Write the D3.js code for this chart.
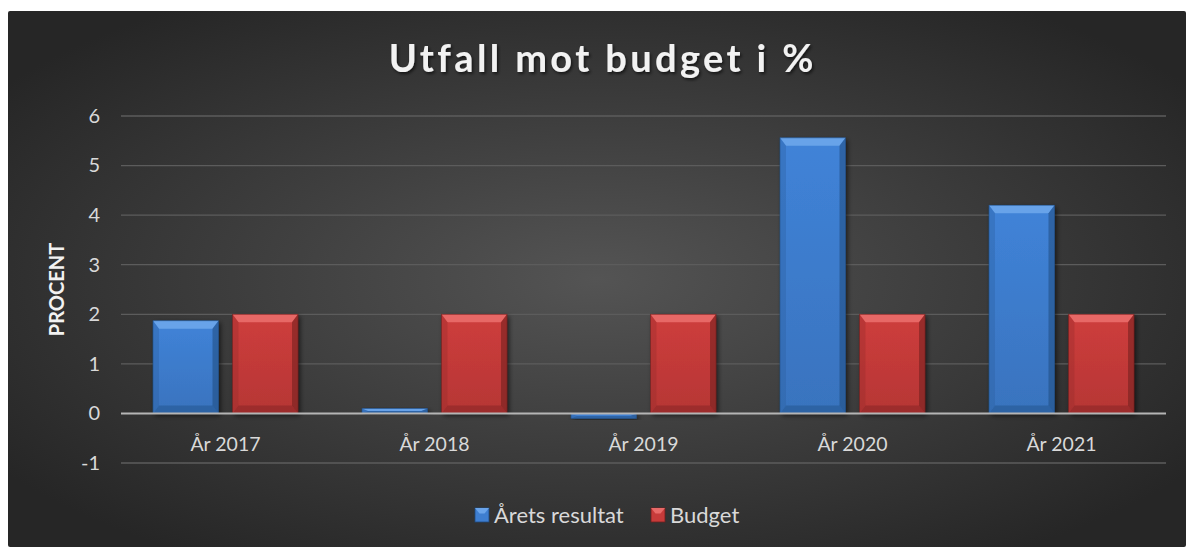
<!DOCTYPE html>
<html><head><meta charset="utf-8">
<script src="https://cdn.jsdelivr.net/npm/d3@7"></script>
<style>html,body{margin:0;padding:0;background:#fff;}svg{display:block;}</style>
</head><body><div id="chart"></div>
<script>
const categories = ["År 2017","År 2018","År 2019","År 2020","År 2021"];
const seriesNames = ["Årets resultat","Budget"];
const aretsResultat = [1.87, 0.1, -0.1, 5.56, 4.2];
const budget = [2, 2, 2, 2, 2];
const yTicks = [-1,0,1,2,3,4,5,6];
const title = "Utfall mot budget i %";
const yTitle = "PROCENT";

const W = 1186, H = 547;
const svg = d3.select("#chart").append("svg").attr("width", W).attr("height", H);
const defs = svg.append("defs");
const bg = defs.append("radialGradient").attr("id","bg").attr("cx","50%").attr("cy","50%").attr("r","62%");
bg.append("stop").attr("offset","0%").attr("stop-color","#545454");
bg.append("stop").attr("offset","100%").attr("stop-color","#262626");
const colors = [{base:"#3e7ed0", light:"#6aa4ea", dark:"#2a5f9e", darker:"#1f4a7d"},
                {base:"#c73b3a", light:"#e86a68", dark:"#962b2a", darker:"#6e1f1e"}];
colors.forEach((c,i)=>{
  const g = defs.append("linearGradient").attr("id","bar"+i).attr("x1",0).attr("x2",0).attr("y1",0).attr("y2",1);
  g.append("stop").attr("offset","0%").attr("stop-color",d3.color(c.base).brighter(0.1));
  g.append("stop").attr("offset","100%").attr("stop-color",d3.color(c.base).darker(0.25));
});
const f = defs.append("filter").attr("id","shadow").attr("x","-20%").attr("y","-20%").attr("width","140%").attr("height","140%");
f.append("feDropShadow").attr("dx",2).attr("dy",2).attr("stdDeviation",2.5).attr("flood-color","#000").attr("flood-opacity",0.6);
const tf = defs.append("filter").attr("id","tshadow").attr("x","-10%").attr("y","-30%").attr("width","120%").attr("height","160%");
tf.append("feDropShadow").attr("dx",1.5).attr("dy",2).attr("stdDeviation",1.5).attr("flood-color","#000").attr("flood-opacity",0.6);

svg.append("rect").attr("x",8).attr("y",11).attr("width",W-8).attr("height",H-11).attr("rx",2).attr("fill","url(#bg)");

const font = "Lato, 'Open Sans', sans-serif";
const titleEl = svg.append("text").attr("x",601).attr("y",72).attr("text-anchor","middle")
  .attr("font-family",font).attr("font-weight","bold").attr("font-size",38).attr("letter-spacing",0)
  .attr("fill","#f2f2f2").attr("filter","url(#tshadow)").text(title);
{
  const w0 = titleEl.node().getComputedTextLength();
  const n = title.length;
  const ls = (427 - w0) / n;
  titleEl.attr("letter-spacing", ls).attr("x", 601 + ls/2);
}

const x = d3.scaleBand().domain(categories).range([121,1166]);
const y = d3.scaleLinear().domain([-1,6]).range([463,116]);
const x1 = d3.scaleBand().domain(seriesNames).range([0, x.bandwidth()]).paddingInner(0.176).paddingOuter(0.402);

svg.append("g").selectAll("line").data(yTicks.filter(d=>d!==0)).join("line")
  .attr("x1",121).attr("x2",1166).attr("y1",d=>y(d)).attr("y2",d=>y(d))
  .attr("stroke","#5c5c5c").attr("stroke-width",1.3);

const yAxis = svg.append("g").attr("transform","translate(121,0)")
  .call(d3.axisLeft(y).tickValues(yTicks).tickSize(0).tickPadding(21).tickFormat(d=>String(d)));
yAxis.select(".domain").remove();
yAxis.selectAll("text").attr("font-family",font).attr("font-size",20).attr("fill","#d9d9d9");

svg.append("text").attr("transform",`translate(64,${y(2.5)}) rotate(-90)`).attr("text-anchor","middle")
  .attr("font-family",font).attr("font-weight","bold").attr("font-size",20).attr("fill","#f2f2f2").text(yTitle);

const series = [aretsResultat, budget];
const bars = [];
categories.forEach((c,ci)=>{
  series.forEach((s,si)=>{
    bars.push({c, si, v:s[ci], name:seriesNames[si]});
  });
});
const barsG = svg.append("g");
bars.forEach(b=>{
  const bx = x(b.c)+x1(b.name), bw = x1.bandwidth();
  const y0 = y(Math.max(0,b.v)), y1 = y(Math.min(0,b.v));
  const h = y1-y0;
  const g = barsG.append("g");
  const c = colors[b.si];
  g.append("rect").attr("x",bx).attr("y",y0).attr("width",bw).attr("height",h)
    .attr("fill","url(#bar"+b.si+")").attr("filter","url(#shadow)");
  const bev = Math.min(8, h/2), bs = Math.min(6, bw/2);
  const xl = bx, xr = bx+bw;
  g.append("path").attr("d",`M${xl},${y0}L${xr},${y0}L${xr-bs},${y0+bev}L${xl+bs},${y0+bev}Z`)
    .attr("fill", b.v>=0 ? c.light : c.base).attr("opacity",0.95);
  g.append("path").attr("d",`M${xl},${y1}L${xr},${y1}L${xr-bs},${y1-bev}L${xl+bs},${y1-bev}Z`)
    .attr("fill", c.dark).attr("opacity",0.8);
  g.append("path").attr("d",`M${xl},${y0}L${xl+bs},${y0+bev}L${xl+bs},${y1-bev}L${xl},${y1}Z`)
    .attr("fill", c.dark).attr("opacity",0.35);
  g.append("path").attr("d",`M${xr},${y0}L${xr-bs},${y0+bev}L${xr-bs},${y1-bev}L${xr},${y1}Z`)
    .attr("fill", c.darker).attr("opacity",0.55);
  g.append("rect").attr("x",bx).attr("y",y0).attr("width",bw).attr("height",h).attr("fill","none")
    .attr("stroke",c.darker).attr("stroke-width",0.8).attr("stroke-opacity",0.7);
});

svg.append("line").attr("x1",121).attr("x2",1166).attr("y1",y(0)).attr("y2",y(0)).attr("stroke","#b5b5b5").attr("stroke-width",2);

const xAxis = svg.append("g").attr("transform",`translate(0,${y(0)})`)
  .call(d3.axisBottom(x).tickSize(0).tickPadding(0));
xAxis.select(".domain").remove();
xAxis.selectAll("text").attr("dy",null).attr("y",38).attr("font-family",font).attr("font-size",19.5).attr("fill","#d9d9d9");

const leg = svg.append("g").attr("transform","translate(475,515)");
const legX = [0, 176];
seriesNames.forEach((n,i)=>{
  const g = leg.append("g").attr("transform",`translate(${legX[i]},0)`);
  const c = colors[i];
  g.append("rect").attr("x",0).attr("y",-7).attr("width",14).attr("height",14).attr("fill",c.base).attr("stroke",c.darker).attr("stroke-width",0.8);
  g.append("path").attr("d","M0,-7L14,-7L9.5,-1.5L4.5,-1.5Z").attr("fill",c.light);
  g.append("text").attr("x",19).attr("y",7.5).attr("font-family",font).attr("font-size",22).attr("fill","#d9d9d9").text(n);
});
</script></body></html>
